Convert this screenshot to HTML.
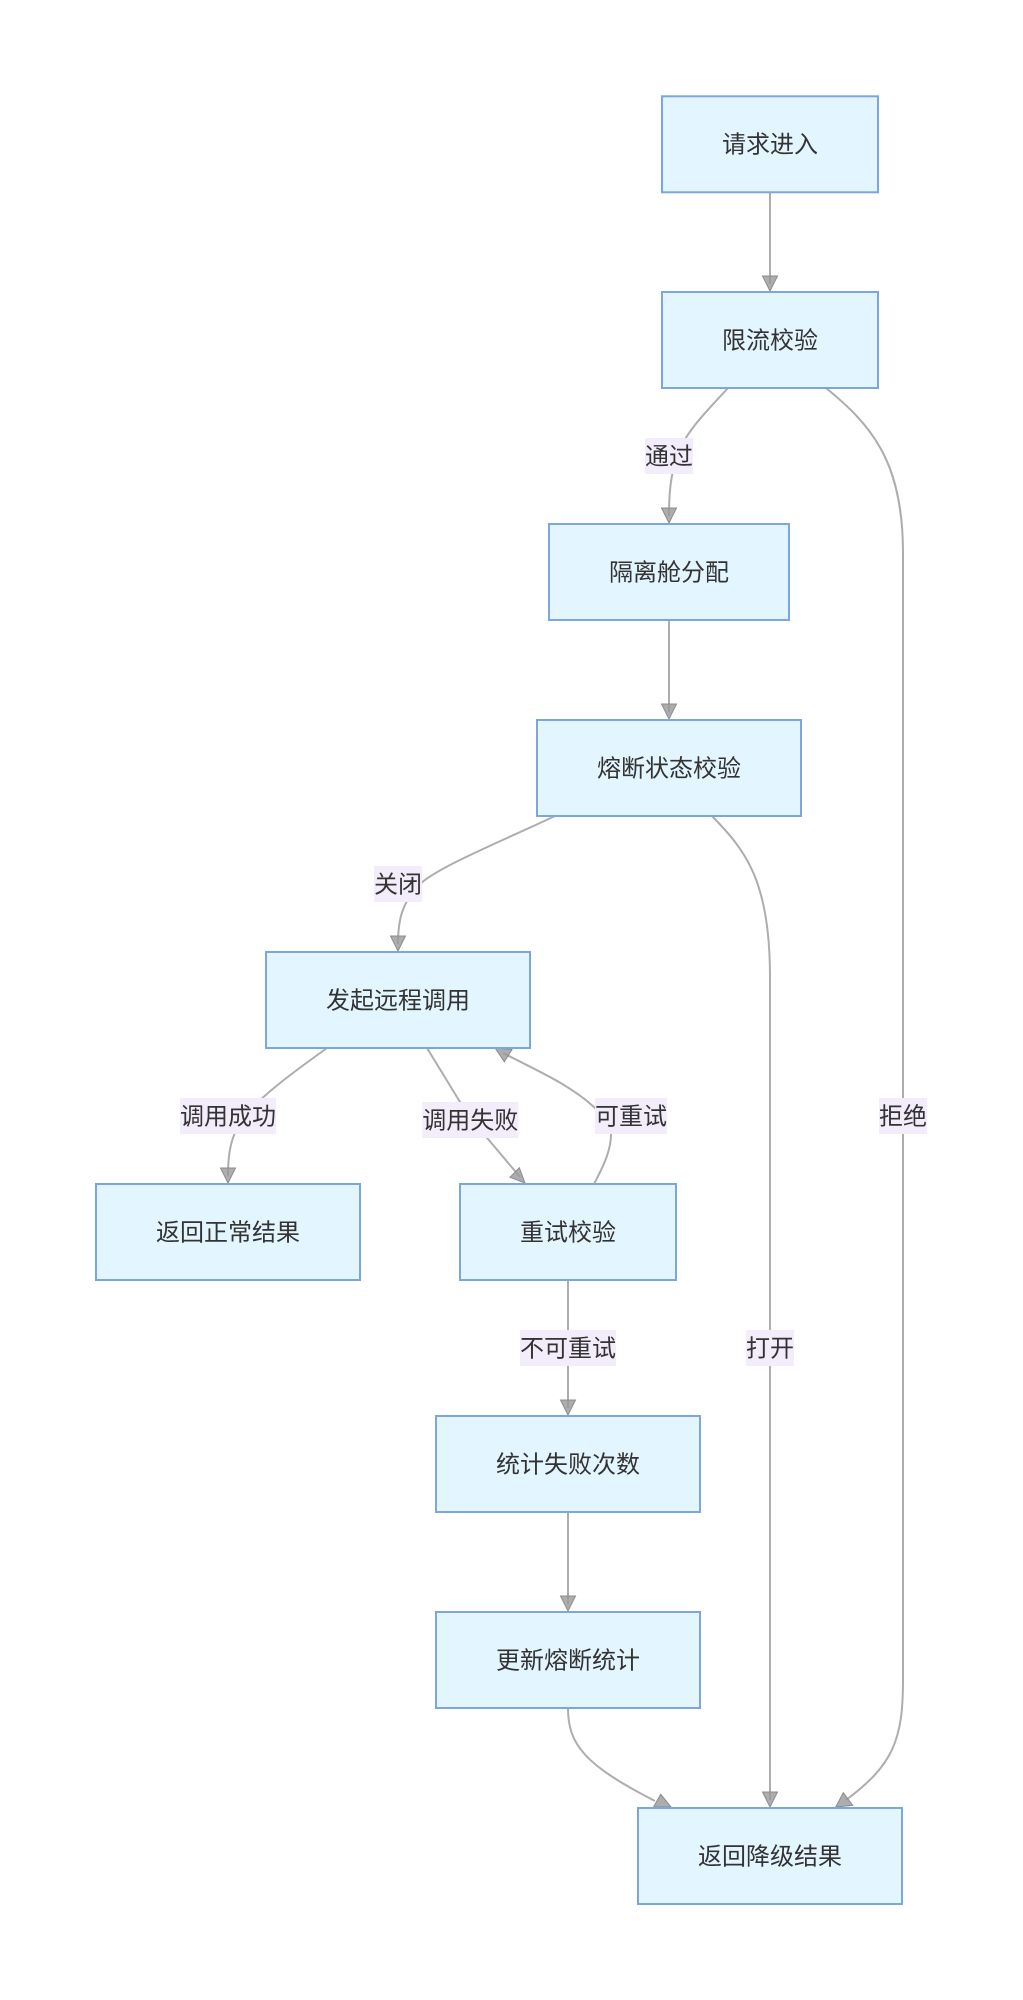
<!DOCTYPE html>
<html lang="zh">
<head>
<meta charset="utf-8">
<title>Flow</title>
<style>
html,body{margin:0;padding:0;background:#fff;width:1023px;height:2000px;overflow:hidden}
svg{display:block;filter:blur(.35px)}
text{font-family:"Liberation Sans","Noto Sans CJK SC",sans-serif;font-size:24px;fill:#333;text-anchor:middle}
.e{fill:none;stroke:#adadad;stroke-width:2}
.a{fill:#999;fill-opacity:.8;stroke:#8c8c8c;stroke-width:1;stroke-linejoin:miter}
.n{fill:#e3f5ff;stroke:#7ba6e0;stroke-width:2}
.l{fill:#f3ecfb}
</style>
</head>
<body>
<svg width="1023" height="2000" viewBox="0 0 1023 2000" xmlns="http://www.w3.org/2000/svg">
<rect width="1023" height="2000" fill="#fff"/>
<!-- edges -->
<path class="e" d="M770 192V284"/>
<path class="e" d="M728 388C708 410 685 432 677 456C671 475 669 490 669 516"/>
<path class="e" d="M826 388C870 424 903 460 903 553V1680C903 1740 893 1765 846 1800"/>
<path class="e" d="M669 620V712"/>
<path class="e" d="M555 816C500 842 440 866 420 884C402 902 398 920 398 944"/>
<path class="e" d="M712 816C745 850 770 880 770 977V1800"/>
<path class="e" d="M327 1048C295 1071 262 1095 245 1116C230 1135 228 1155 228 1176"/>
<path class="e" d="M427 1048L460 1102L472 1120L520 1177"/>
<path class="e" d="M594 1184C604 1165 611 1150 611 1134C611 1128 605 1118 594 1107C570 1085 540 1072 503 1053"/>
<path class="e" d="M568 1280V1408"/>
<path class="e" d="M568 1512V1604"/>
<path class="e" d="M568 1708C568 1745 585 1765 655 1801"/>
<!-- arrowheads -->
<polygon class="a" points="762.5,276 777.5,276 770,291"/>
<polygon class="a" points="661.5,508 676.5,508 669,523"/>
<polygon class="a" points="661.5,704 676.5,704 669,719"/>
<polygon class="a" points="390.5,936 405.5,936 398,951"/>
<polygon class="a" points="220.5,1168 235.5,1168 228,1183"/>
<polygon class="a" points="519.3,1167.7 510,1177.3 525,1183"/>
<polygon class="a" points="504.3,1061.7 512,1049.5 495,1048"/>
<polygon class="a" points="560.5,1400 575.5,1400 568,1415"/>
<polygon class="a" points="560.5,1596 575.5,1596 568,1611"/>
<polygon class="a" points="762.5,1792 777.5,1792 770,1807"/>
<polygon class="a" points="660.7,1794.3 653.5,1807 671,1807"/>
<polygon class="a" points="843.3,1792.7 852.7,1805.3 835.7,1807"/>
<!-- nodes -->
<rect class="n" x="662" y="96.3" width="216" height="96"/>
<rect class="n" x="662" y="292" width="216" height="96"/>
<rect class="n" x="549" y="524" width="240" height="96"/>
<rect class="n" x="537" y="720" width="264" height="96"/>
<rect class="n" x="266" y="952" width="264" height="96"/>
<rect class="n" x="96" y="1184" width="264" height="96"/>
<rect class="n" x="460" y="1184" width="216" height="96"/>
<rect class="n" x="436" y="1416" width="264" height="96"/>
<rect class="n" x="436" y="1612" width="264" height="96"/>
<rect class="n" x="638" y="1808" width="264" height="96"/>
<text x="770" y="152.5">请求进入</text>
<text x="770" y="348.5">限流校验</text>
<text x="669" y="580.5">隔离舱分配</text>
<text x="669" y="776.5">熔断状态校验</text>
<text x="398" y="1008.5">发起远程调用</text>
<text x="228" y="1240.5">返回正常结果</text>
<text x="568" y="1240.5">重试校验</text>
<text x="568" y="1472.5">统计失败次数</text>
<text x="568" y="1668.5">更新熔断统计</text>
<text x="770" y="1864.5">返回降级结果</text>
<!-- edge labels -->
<rect class="l" x="645" y="438" width="48" height="36"/>
<text x="669" y="464.5">通过</text>
<rect class="l" x="374" y="866" width="48" height="36"/>
<text x="398" y="892.5">关闭</text>
<rect class="l" x="180" y="1098" width="96" height="36"/>
<text x="228" y="1124.5">调用成功</text>
<rect class="l" x="422.3" y="1102" width="96" height="36"/>
<text x="470.3" y="1128.5">调用失败</text>
<rect class="l" x="595" y="1098" width="72" height="36"/>
<text x="631" y="1124.5">可重试</text>
<rect class="l" x="879" y="1098" width="48" height="36"/>
<text x="903" y="1124.5">拒绝</text>
<rect class="l" x="520" y="1330" width="96" height="36"/>
<text x="568" y="1356.5">不可重试</text>
<rect class="l" x="746" y="1330" width="48" height="36"/>
<text x="770" y="1356.5">打开</text>
</svg>
</body>
</html>
